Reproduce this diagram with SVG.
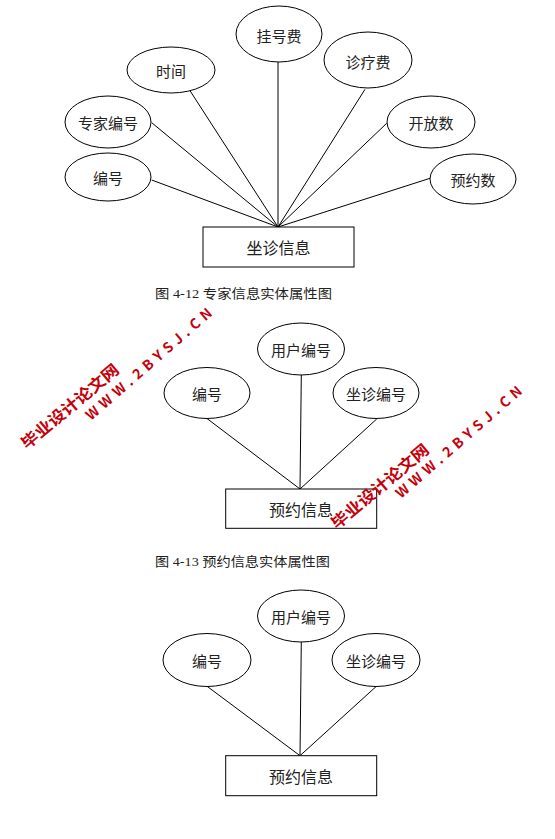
<svg xmlns="http://www.w3.org/2000/svg" width="555" height="839" viewBox="0 0 555 839">
<style>
.e{fill:#fff;stroke:#000;stroke-width:1}
.r{fill:#fff;stroke:#000;stroke-width:1}
.l{stroke:#000;stroke-width:1;fill:none}
.t{font-family:"Noto Sans CJK SC","Liberation Sans",sans-serif;font-size:15px;fill:#222;text-anchor:middle;dominant-baseline:central}
.tb{font-family:"Noto Sans CJK SC","Liberation Sans",sans-serif;font-size:16px;fill:#222;text-anchor:middle;dominant-baseline:central}
.cap{font-family:"Liberation Serif","Noto Sans CJK SC",serif;font-size:13px;fill:#222}
.wm{font-family:"Noto Sans CJK SC","Liberation Sans",sans-serif;font-weight:bold;fill:#c4000a}
</style>
<rect width="555" height="839" fill="#fff"/>
<g id="connectors">
<line class="l" x1="151.7" y1="180" x2="278" y2="227"/>
<line class="l" x1="151.7" y1="122.7" x2="278" y2="227"/>
<line class="l" x1="190" y1="90.7" x2="278" y2="227"/>
<line class="l" x1="278" y1="61.7" x2="278" y2="227"/>
<line class="l" x1="365" y1="89.3" x2="278" y2="227"/>
<line class="l" x1="386.7" y1="123.3" x2="278" y2="227"/>
<line class="l" x1="430" y1="178.3" x2="278" y2="227"/>
<line class="l" x1="206.7" y1="418.3" x2="300" y2="489"/>
<line class="l" x1="301.3" y1="375" x2="300" y2="489"/>
<line class="l" x1="376.7" y1="419" x2="300" y2="489"/>
<line class="l" x1="206.7" y1="686" x2="300" y2="755.7"/>
<line class="l" x1="301.3" y1="641.7" x2="300" y2="755.7"/>
<line class="l" x1="376.7" y1="686" x2="300" y2="755.7"/>
</g>
<g id="n1-guahaofei"><ellipse class="e" cx="279" cy="34" rx="43" ry="28"/><text class="t" x="279" y="35">挂号费</text></g>
<g id="n1-shijian"><ellipse class="e" cx="171" cy="70" rx="44" ry="23"/><text class="t" x="171" y="70">时间</text></g>
<g id="n1-zhenliaofei"><ellipse class="e" cx="368" cy="60" rx="44" ry="28"/><text class="t" x="368" y="61">诊疗费</text></g>
<g id="n1-zhuanjiabianhao"><ellipse class="e" cx="108" cy="122" rx="43" ry="26"/><text class="t" x="108" y="122">专家编号</text></g>
<g id="n1-kaifangshu"><ellipse class="e" cx="431" cy="122" rx="44" ry="26"/><text class="t" x="431" y="122">开放数</text></g>
<g id="n1-bianhao"><ellipse class="e" cx="108" cy="177" rx="43" ry="24"/><text class="t" x="108" y="177">编号</text></g>
<g id="n1-yuyueshu"><ellipse class="e" cx="473" cy="179" rx="43" ry="25"/><text class="t" x="473" y="179">预约数</text></g>
<g id="n1-zuozhenxinxi"><rect class="r" x="203" y="227" width="151" height="40"/><text class="tb" x="278.5" y="247">坐诊信息</text></g>
<text class="cap" x="155" y="298" textLength="177" lengthAdjust="spacingAndGlyphs">图 4-12 专家信息实体属性图</text>

<g id="n2-yonghubianhao"><ellipse class="e" cx="301" cy="349" rx="43.5" ry="26"/><text class="t" x="301" y="349">用户编号</text></g>
<g id="n2-bianhao"><ellipse class="e" cx="207" cy="393" rx="43" ry="25.5"/><text class="t" x="207" y="393">编号</text></g>
<g id="n2-zuozhenbianhao"><ellipse class="e" cx="376" cy="393" rx="43" ry="25.5"/><text class="t" x="376" y="393">坐诊编号</text></g>
<g id="n2-yuyuexinxi"><rect class="r" x="225.7" y="489" width="151" height="39.3"/><text class="tb" x="301" y="508.5">预约信息</text></g>
<text class="cap" x="155" y="566" textLength="175" lengthAdjust="spacingAndGlyphs">图 4-13 预约信息实体属性图</text>

<g id="n3-yonghubianhao"><ellipse class="e" cx="301" cy="616" rx="43.5" ry="26"/><text class="t" x="301" y="616">用户编号</text></g>
<g id="n3-bianhao"><ellipse class="e" cx="207" cy="660" rx="44" ry="26.5"/><text class="t" x="207" y="660">编号</text></g>
<g id="n3-zuozhenbianhao"><ellipse class="e" cx="376" cy="660" rx="44" ry="26.5"/><text class="t" x="376" y="660">坐诊编号</text></g>
<g id="n3-yuyuexinxi"><rect class="r" x="225.7" y="755.7" width="151" height="40"/><text class="tb" x="301" y="775.7">预约信息</text></g>

<g id="watermark1">
<text class="wm" font-size="16" transform="translate(27,450) rotate(-40)" textLength="122" lengthAdjust="spacingAndGlyphs">毕业设计论文网</text>
<text class="wm" font-size="14" transform="translate(91,421) rotate(-41)" textLength="162" lengthAdjust="spacing" font-family="Liberation Sans">WWW.2BYSJ.CN</text>
</g>
<g id="watermark2">
<text class="wm" font-size="16" transform="translate(337,530) rotate(-40)" textLength="122" lengthAdjust="spacingAndGlyphs">毕业设计论文网</text>
<text class="wm" font-size="14" transform="translate(401,499) rotate(-41)" textLength="162" lengthAdjust="spacing" font-family="Liberation Sans">WWW.2BYSJ.CN</text>
</g>
</svg>
